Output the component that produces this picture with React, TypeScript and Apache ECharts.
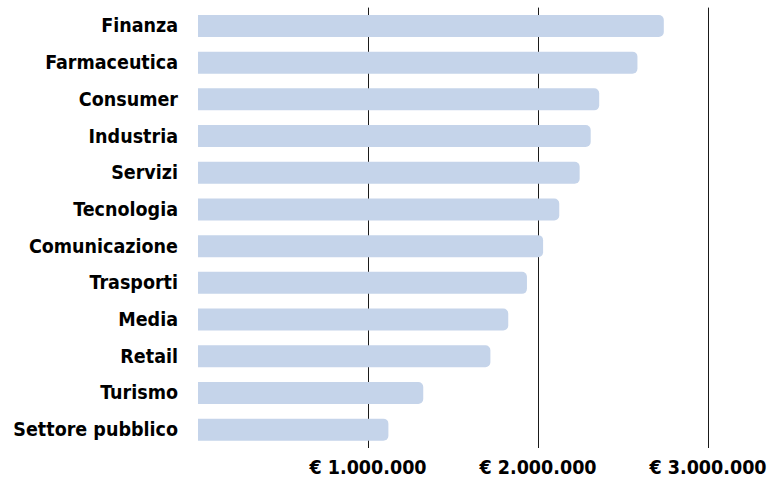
import React, { useEffect, useRef } from "react";
import * as echarts from "echarts";

const categories = [
  "Finanza",
  "Farmaceutica",
  "Consumer",
  "Industria",
  "Servizi",
  "Tecnologia",
  "Comunicazione",
  "Trasporti",
  "Media",
  "Retail",
  "Turismo",
  "Settore pubblico",
];

const values = [
  2740000, 2585000, 2360000, 2310000, 2245000, 2125000, 2030000, 1935000,
  1825000, 1720000, 1325000, 1120000,
];

const tickLabels: Record<number, string> = {
  1000000: "€ 1.000.000",
  2000000: "€ 2.000.000",
  3000000: "€ 3.000.000",
};

const FONT = '"DejaVu Sans Condensed", "Liberation Sans Narrow", "Noto Sans", sans-serif';

export default function App() {
  const ref = useRef<HTMLDivElement>(null);
  useEffect(() => {
    if (!ref.current) return;
    const chart = echarts.init(ref.current, null, { renderer: "svg" });
    chart.setOption({
      animation: false,
      backgroundColor: "#ffffff",
      grid: { left: 198, right: 30, top: 7.6, bottom: 27.8, containLabel: false },
      xAxis: {
        type: "value",
        min: 0,
        max: 3200000,
        interval: 1000000,
        axisLine: { show: false },
        axisTick: { show: false },
        splitLine: {
          show: true,
          showMinLine: false,
          showMaxLine: false,
          lineStyle: { color: "#1a1a1a", width: 1 },
        },
        axisLabel: {
          margin: 9,
          fontFamily: FONT,
          fontWeight: "bold",
          fontSize: 19.5,
          color: "#000000",
          formatter: (v: number) => tickLabels[v] || "",
        },
      },
      yAxis: {
        type: "category",
        data: categories,
        inverse: true,
        axisLine: { show: false },
        axisTick: { show: false },
        splitLine: { show: false },
        axisLabel: {
          margin: 20,
          fontFamily: FONT,
          fontWeight: "bold",
          fontSize: 19.5,
          color: "#000000",
        },
      },
      series: [
        {
          type: "bar",
          data: values,
          barWidth: 22,
          itemStyle: { color: "#c5d4ea", borderRadius: [0, 5, 5, 0] },
        },
      ],
    });
    return () => chart.dispose();
  }, []);
  return (
    <div
      ref={ref}
      style={{ position: "fixed", left: 0, top: 0, width: 772, height: 477 }}
    />
  );
}
